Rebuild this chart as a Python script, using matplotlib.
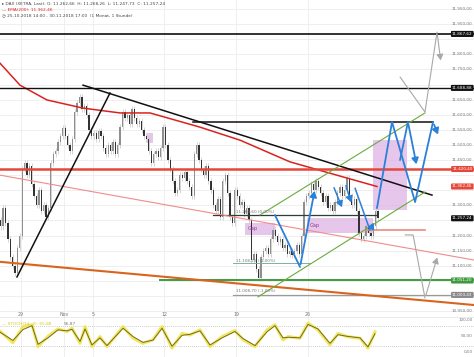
import matplotlib
matplotlib.use("Agg")
import matplotlib.pyplot as plt

# --- data -------------------------------------------------------------------
# closes, 6 bars per trading day; first 3 bars are Thu 25.10 afternoon
closes = [11230, 11290, 11240,
          11190, 11130, 11100, 11075, 11160, 11200,
          11420, 11440, 11400, 11430, 11370, 11330,
          11300, 11350, 11280, 11300, 11260, 11290,
          11440, 11470, 11480, 11510, 11530, 11555,
          11530, 11500, 11480, 11520, 11610, 11640,
          11660, 11620, 11630, 11600, 11550, 11530,
          11540, 11520, 11545, 11530, 11490, 11470,
          11500, 11480, 11510, 11470, 11500, 11560,
          11610, 11590, 11600, 11570, 11620, 11590,
          11570, 11580, 11550, 11530, 11520, 11480,
          11440, 11470, 11480, 11460, 11490, 11560,
          11500, 11450, 11420, 11380, 11340, 11350,
          11400, 11390, 11410, 11380, 11360, 11330,
          11470, 11500, 11450, 11420, 11400, 11430,
          11380, 11350, 11300, 11280, 11320, 11260,
          11380, 11400, 11340, 11260, 11240, 11350,
          11330, 11300, 11310, 11270, 11290, 11250,
          11120, 11140, 11090, 11060, 11130, 11150,
          11160, 11140, 11190, 11220, 11200, 11180,
          11190, 11160, 11170, 11140, 11150, 11135,
          11150, 11170, 11140, 11200, 11310, 11330,
          11340, 11370, 11350, 11380, 11360, 11340,
          11310, 11330, 11290, 11300, 11280, 11310,
          11340, 11360, 11330, 11350, 11390, 11330,
          11300, 11320, 11280, 11210, 11190, 11200,
          11230, 11210, 11200, 11230, 11280, 11257.24]
first_open = 11250

ema_days = [-1.47, -0.07, 1.81, 4.33, 6.91, 9.0, 12.49, 15.28, 18.77, 22.26, 24.84]
ema_values = [11771, 11698, 11649, 11622, 11606, 11606, 11559, 11516, 11444, 11397, 11362.46]

date_ticks = [0, 3, 5, 10, 15, 20]
date_labels = ["29", "Nov", "5", "12", "19", "26"]

price_ticks = [10950, 11000, 11050, 11100, 11150, 11200, 11250, 11300, 11350, 11400,
               11450, 11500, 11550, 11600, 11650, 11700, 11750, 11800, 11850, 11900, 11950]

stoch_days = [-1.47, -0.56, 0.14, 0.77, 1.19, 1.88, 2.58, 3.21, 3.56, 4.12, 4.47, 4.95,
              5.51, 6.0, 7.12, 7.82, 8.51, 9.21, 9.84, 10.54, 11.24, 11.79, 12.49, 13.19,
              14.03, 14.93, 15.49, 16.33, 17.17, 17.72, 18.28, 18.63, 19.47, 20.03, 20.72,
              21.56, 22.12, 22.75, 23.66, 24.21, 24.7]
stoch_k = [65, 29, 79, 85, 17, 49, 72, 64, 74, 27, 79, 17, 48, 17, 79, 43, 27, 38, 79, 12,
           58, 53, 69, 17, 48, 67, 38, 17, 69, 85, 38, 48, 43, 90, 69, 22, 58, 48, 43, 12, 63]
stoch_d = [62, 36, 70, 82, 24, 44, 69, 66, 71, 33, 72, 22, 44, 20, 74, 48, 30, 37, 74, 18,
           52, 55, 66, 22, 44, 64, 42, 20, 63, 82, 44, 46, 44, 86, 72, 27, 54, 49, 44, 16, 57]

# horizontal levels: (price, label, colour)
levels = [(11867.62, "11.867,62", "#111111"),
          (11688.88, "11.688,88", "#111111"),
          (11420.40, "11.420,40", "#e5483a"),
          (11051.20, "11.051,20", "#3f9a3f"),
          (11003.43, "11.003,43", "#8a8a8a")]


def fmt(v):
    return f"{v:,.2f}".replace(",", "X").replace(".", ",").replace("X", ".")


# --- figure -----------------------------------------------------------------
fig = plt.figure(figsize=(4.74, 3.57), dpi=100)
ax = fig.add_axes([0, 39 / 357, 1, 318 / 357])
osc = fig.add_axes([0, 0, 1, 39 / 357])

xmin, xmax = -1.465, 31.61
for a in (ax, osc):
    a.set_xlim(xmin, xmax)
    for s in a.spines.values():
        s.set_visible(False)
    a.set_xticks([])
    a.set_yticks([])
ax.set_ylim(10927, 11980)
osc.set_ylim(-15.6, 106)

# grid
for p in price_ticks:
    ax.axhline(p, color="#ededed", lw=0.6, zorder=0)
for d in date_ticks:
    ax.axvline(d, color="#ededed", lw=0.6, zorder=0)
    osc.axvline(d, color="#ededed", lw=0.6, zorder=0)
ax.axhline(10927, color="#9a9a9a", lw=1.0)

# candles
bar_x = [-2 + (i + 3.5) / 6 for i in range(len(closes))]
opens = [first_open] + closes[:-1]
for x, o, c in zip(bar_x, opens, closes):
    col = "#333333" if c < o else "#8f8f8f"
    ax.vlines(x, min(o, c) - 10, max(o, c) + 10, color="#c4c4c4", lw=0.5, zorder=2)
    ax.bar(x, max(abs(c - o), 2), bottom=min(o, c), width=0.09, color=col, lw=0, zorder=3)

# EMA 200
ax.plot(ema_days, ema_values, color="#d9231f", lw=1.1, zorder=4)

# horizontal levels
ax.axhline(11867.62, color="#111111", lw=1.2, zorder=4)
ax.axhline(11688.88, color="#111111", lw=1.0, zorder=4)
ax.axhline(11420.40, color="#e5483a", lw=1.8, zorder=4)
ax.plot([9.7, xmax], [11051.2, 11051.2], color="#3f9a3f", lw=1.4, zorder=4)
ax.plot([14.8, xmax], [11003.43, 11003.43], color="#9a9a9a", lw=0.9, zorder=4)
ax.plot([12.0, 28.75], [11576, 11576], color="#111111", lw=1.1, zorder=4)
ax.plot([13.4, 24.84], [11268, 11268], color="#2f3f35", lw=0.9, zorder=4)
ax.plot([14.8, 20.2], [11109, 11109], color="#7ab0a8", lw=0.7, zorder=4)
ax.plot([24.1, 28.2], [11218, 11218], color="#e88a84", lw=1.2, zorder=4)

# trend lines
ax.plot([xmin, xmax], [11113, 10970], color="#d8641e", lw=1.5, zorder=4)
ax.plot([xmin, xmax], [11400, 11119], color="#ef8c8c", lw=0.8, zorder=4)
ax.plot([4.33, 28.68], [11698, 11334], color="#111111", lw=1.1, zorder=5)
ax.plot([-0.28, 6.21], [11063, 11672], color="#111111", lw=1.1, zorder=5)
ax.plot([16.68, 28.19], [11268, 11606], color="#6aab3c", lw=0.8, zorder=5)
ax.plot([16.54, 28.19], [10997, 11344], color="#6aab3c", lw=0.8, zorder=5)

# shaded zones (gaps / target)
zones = [(8.8, 9.2, 11507, 11540, ""),
         (15.6, 17.7, 11202, 11242, "Gap"),
         (19.96, 24.56, 11209, 11258, "Gap"),
         (24.56, 26.9, 11285, 11516, "")]
for x0, x1, y0, y1, lab in zones:
    ax.fill_between([x0, x1], y0, y1, color="#dfb4e6", alpha=0.75, lw=0, zorder=1)
    if lab:
        ax.text(x0 + 0.2, (y0 + y1) / 2, lab, fontsize=3.6, color="#8a3d8f",
                va="center", ha="left", zorder=6)

# small level texts
ax.text(15.0, 11274, "11.260,60 (0,00%)", fontsize=3, color="#777777", zorder=6)
ax.text(15.0, 11114, "11.108,25 (-1,00%)", fontsize=3, color="#777777", zorder=6)
ax.text(15.0, 11014, "11.008,70 (-1,00%)", fontsize=3, color="#777777", zorder=6)


def path(a, xs, ys, color, lw):
    a.plot(xs[:-1], ys[:-1], color=color, lw=lw, zorder=7, solid_capstyle="round")
    a.annotate("", xy=(xs[-1], ys[-1]), xytext=(xs[-2], ys[-2]),
               arrowprops=dict(arrowstyle="-|>,head_length=0.35,head_width=0.2",
                               color=color, lw=lw), zorder=7)


blue = "#2b80d8"
path(ax, [17.72, 19.47, 20.52], [11268, 11096, 11357], blue, 1.3)
path(ax, [21.77, 22.47], [11367, 11285], blue, 1.1)
path(ax, [22.61, 23.1], [11374, 11301], blue, 1.1)
path(ax, [23.31, 24.35, 24.7], [11357, 11218, 11251], blue, 1.1)
path(ax, [24.84, 25.89, 27.5, 28.75, 29.17], [11291, 11576, 11311, 11576, 11526], blue, 1.3)
path(ax, [26.45, 27.0, 27.63], [11450, 11576, 11427], blue, 1.3)
grey = "#a8a8a8"
path(ax, [26.45, 28.19, 29.03, 29.31], [11725, 11609, 11874, 11771], grey, 0.8)
path(ax, [26.8, 27.36, 28.19, 29.1], [11202, 11202, 10993, 11136], grey, 0.8)

# right price scale
boxed = [l[0] for l in levels] + [11362.46, 11257.24]
for p in price_ticks:
    if any(abs(p - b) < 22 for b in boxed):
        continue
    ax.text(0.997, p, fmt(p), transform=ax.get_yaxis_transform(), fontsize=3,
            color="#777777", ha="right", va="center")
tags = levels + [(11362.46, "11.362,46", "#e5483a"), (11257.24, "11.257,24", "#111111")]
for p, lab, col in tags:
    ax.text(0.997, p, lab, transform=ax.get_yaxis_transform(), fontsize=3,
            color="white", ha="right", va="center", zorder=9,
            bbox=dict(boxstyle="round,pad=0.25", fc=col, ec="none"))

# date labels
for d, lab in zip(date_ticks, date_labels):
    ax.text(d, 10940, lab, fontsize=3.4, color="#777777", ha="center", va="center")

# header
ax.text(0.004, 0.993, "\u25b8 DAX (XETRA, Last): O: 11.262,66  H: 11.268,26  L: 11.247,73  C: 11.257,24",
        transform=ax.transAxes, fontsize=3.1, color="#444444", va="top")
ax.text(0.004, 0.975, "\u2014 EMA(200): 11.362,46", transform=ax.transAxes, fontsize=3.1,
        color="#d9231f", va="top")
ax.text(0.004, 0.957, "\u25f7 25.10.2018 14:00 - 30.11.2018 17:00  (1 Monat, 1 Stunde)",
        transform=ax.transAxes, fontsize=3.1, color="#444444", va="top")

# oscillator
for lvl in (80, 20):
    osc.axhline(lvl, color="#bbbbbb", lw=0.6, ls=(0, (1, 1.5)))
osc.plot(stoch_days, stoch_k, color="#f1e54a", lw=2.2, alpha=0.9, zorder=3)
osc.plot(stoch_days, stoch_d, color="#6f6a2c", lw=0.7, zorder=4)
for v, lab in [(100, "100,00"), (50, "50,00"), (0, "0,00")]:
    osc.text(0.997, v, lab, transform=osc.get_yaxis_transform(), fontsize=3,
             color="#777777", ha="right", va="center")
osc.text(0.004, 0.9, "\u2014 STOCH(14, 3): 65,88", transform=osc.transAxes, fontsize=3.1,
         color="#d8c81a", va="top")
osc.text(0.135, 0.9, "56,87", transform=osc.transAxes, fontsize=3.1, color="#777777", va="top")

fig.savefig("out.png", dpi=100)
